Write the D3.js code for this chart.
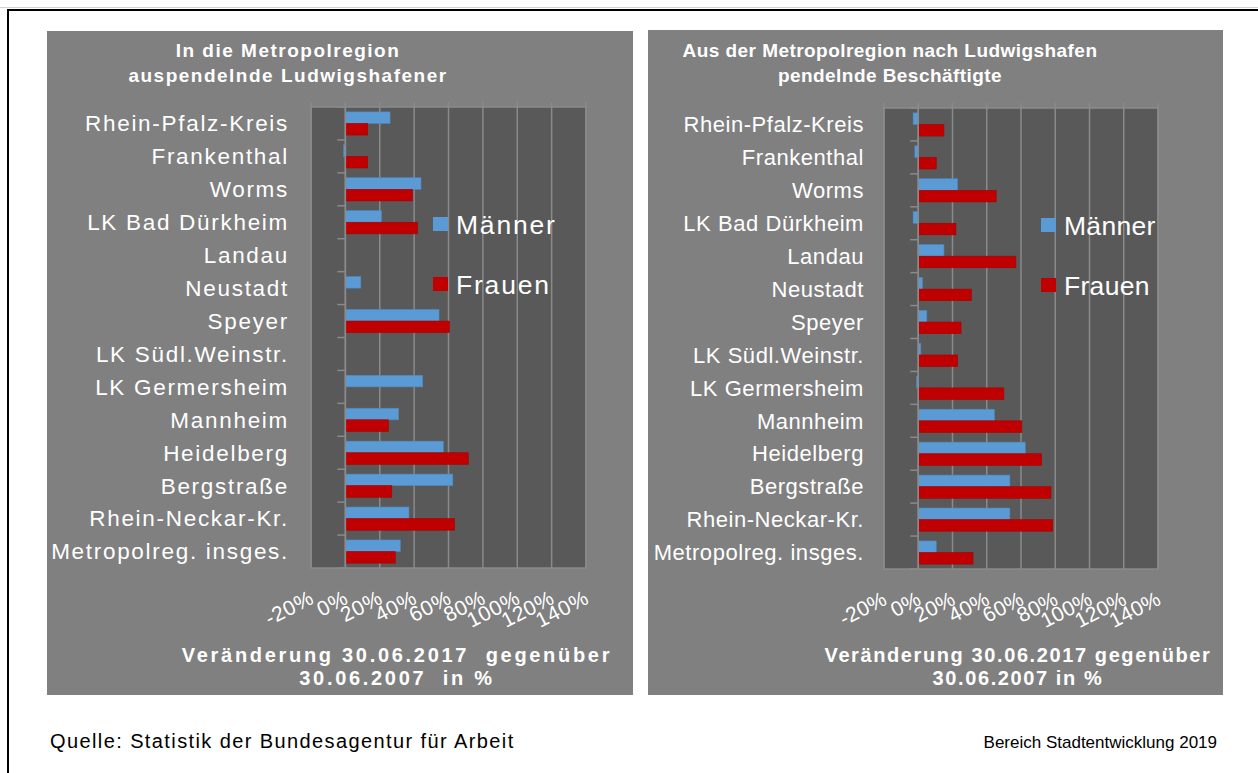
<!DOCTYPE html>
<html>
<head>
<meta charset="utf-8">
<script src="https://cdn.jsdelivr.net/npm/d3@7"></script>
<style>
  body { margin: 0; background: #fff; }
  svg text { font-family: "Liberation Sans", Arial, sans-serif; }
</style>
</head>
<body>
<div id="chart"></div>
<script>
// Pendler Ludwigshafen – Veränderung 2007 bis 2017, zwei Balkendiagramme

const categories = [
  "Rhein-Pfalz-Kreis", "Frankenthal", "Worms", "LK Bad Dürkheim", "Landau",
  "Neustadt", "Speyer", "LK Südl.Weinstr.", "LK Germersheim", "Mannheim",
  "Heidelberg", "Bergstraße", "Rhein-Neckar-Kr.", "Metropolreg. insges."
];

// links: in die Metropolregion auspendelnde Ludwigshafener (%)
const outMen   = [26, -1, 44, 21, null, 9, 54.5, null, 45, 31, 57, 62.5, 37, 32];
const outWomen = [13, 13, 39, 42, null, null, 60.5, null, null, 25, 71.5, 27, 63.5, 29];

// rechts: aus der Metropolregion nach Ludwigshafen pendelnde Beschäftigte (%)
const inMen   = [-3, -2, 23, -3, 15, 2.5, 5, 1.5, -1, 44.5, 62.5, 53.5, 53.5, 10.5];
const inWomen = [15, 10.5, 45.5, 22, 57, 31, 25, 23, 50, 60.5, 72, 77.5, 78.5, 32];

const xTicks = [-20, 0, 20, 40, 60, 80, 100, 120, 140];
const seriesNames = ["Männer", "Frauen"];
const seriesColors = ["#5b9bd5", "#c00000"];

const W = 1258, H = 773;

const svg = d3.select("#chart")
  .append("svg")
  .attr("width", W)
  .attr("height", H);

svg.append("rect")
  .attr("width", W)
  .attr("height", H)
  .attr("fill", "#fff");

// outer frame
svg.append("line")
  .attr("x1", 0).attr("x2", W)
  .attr("y1", 7.5).attr("y2", 7.5)
  .attr("stroke", "#d0d0d0");
svg.append("rect")
  .attr("x", 8)
  .attr("y", 10)
  .attr("width", W)
  .attr("height", H)
  .attr("fill", "none")
  .attr("stroke", "#000")
  .attr("stroke-width", 2);

function drawPanel(opt) {
  const g = svg.append("g");
  const sp = opt.spacing;

  g.append("rect")
    .attr("x", opt.box[0])
    .attr("y", opt.box[1])
    .attr("width", opt.box[2] - opt.box[0])
    .attr("height", opt.box[3] - opt.box[1])
    .attr("fill", "#808080");

  const x = d3.scaleLinear()
    .domain([xTicks[0], xTicks[xTicks.length - 1]])
    .range([opt.plot.left, opt.plot.right]);

  const y = d3.scaleBand()
    .domain(categories)
    .range([opt.plot.top, opt.plot.bottom]);

  const inner = d3.scaleBand()
    .domain(seriesNames)
    .range([0, y.bandwidth()])
    .paddingOuter(0.42)
    .paddingInner(0);

  // plot area
  g.append("rect")
    .attr("x", opt.plot.left)
    .attr("y", opt.plot.top)
    .attr("width", opt.plot.right - opt.plot.left)
    .attr("height", opt.plot.bottom - opt.plot.top)
    .attr("fill", "#595959")
    .attr("stroke", "#8a8a8a")
    .attr("stroke-width", 1.5);

  // vertical gridlines (slightly above plot top)
  g.append("g")
    .selectAll("line")
    .data(xTicks)
    .enter()
    .append("line")
    .attr("x1", d => x(d))
    .attr("x2", d => x(d))
    .attr("y1", opt.plot.top - 5)
    .attr("y2", opt.plot.bottom)
    .attr("stroke", "#8a8a8a")
    .attr("stroke-width", 1.5);

  // bars
  const vals = [opt.men, opt.women];
  seriesNames.forEach((s, si) => {
    g.append("g")
      .selectAll("rect")
      .data(categories.map((c, i) => ({ c, v: vals[si][i] })).filter(d => d.v !== null))
      .enter()
      .append("rect")
      .attr("x", d => x(Math.min(0, d.v)))
      .attr("y", d => y(d.c) + inner(s))
      .attr("width", d => Math.max(1, Math.abs(x(d.v) - x(0))))
      .attr("height", inner.bandwidth())
      .attr("fill", seriesColors[si])
      .attr("stroke", si === 0 ? "#4f87bb" : "#a80000")
      .attr("stroke-width", 0.6);
  });

  // category axis at 0 %
  const yAxis = g.append("g")
    .attr("transform", `translate(${x(0)},0)`);
  yAxis.append("line")
    .attr("x1", 0).attr("x2", 0)
    .attr("y1", opt.plot.top).attr("y2", opt.plot.bottom)
    .attr("stroke", "#8a8a8a")
    .attr("stroke-width", 1.5);
  yAxis.selectAll("line.tick")
    .data(d3.range(categories.length + 1))
    .enter()
    .append("line")
    .attr("class", "tick")
    .attr("x1", -8).attr("x2", 0)
    .attr("y1", i => opt.plot.top + i * y.step())
    .attr("y2", i => opt.plot.top + i * y.step())
    .attr("stroke", "#8a8a8a")
    .attr("stroke-width", 1.5);

  // category labels
  g.append("g")
    .selectAll("text")
    .data(categories)
    .enter()
    .append("text")
    .attr("x", opt.labelX)
    .attr("y", d => y(d) + y.bandwidth() / 2)
    .attr("dy", "0.35em")
    .attr("text-anchor", "end")
    .attr("fill", "#fff")
    .style("font-size", opt.labelSize + "px")
    .style("letter-spacing", sp.label + "px")
    .text(d => d);

  // x tick labels, rotated
  g.append("g")
    .selectAll("text")
    .data(xTicks)
    .enter()
    .append("text")
    .attr("transform", d => `translate(${x(d) + 1},${opt.plot.bottom + 28}) rotate(-27)`)
    .attr("text-anchor", "end")
    .attr("dy", "0.35em")
    .attr("fill", "#fff")
    .style("font-size", "21px")
    .style("letter-spacing", sp.tick + "px")
    .text(d => d + "%");

  // legend
  seriesNames.forEach((s, i) => {
    const ly = opt.legend[1] + i * 60;
    g.append("rect")
      .attr("x", opt.legend[0])
      .attr("y", ly - 7)
      .attr("width", 15)
      .attr("height", 14)
      .attr("fill", seriesColors[i]);
    g.append("text")
      .attr("x", opt.legend[0] + 23)
      .attr("y", ly)
      .attr("dy", "0.36em")
      .attr("fill", "#fff")
      .style("font-size", "26.5px")
      .style("letter-spacing", sp.legend + "px")
      .text(s);
  });

  // title
  opt.title.forEach((t, i) => {
    g.append("text")
      .attr("x", opt.titleX)
      .attr("y", 57 + i * 25)
      .attr("text-anchor", "middle")
      .attr("fill", "#fff")
      .style("font-size", "19px")
      .style("font-weight", "bold")
      .style("letter-spacing", sp.title + "px")
      .text(t);
  });

  // axis title
  opt.axisTitle.forEach((t, i) => {
    g.append("text")
      .attr("x", opt.axisTitleX)
      .attr("y", 662 + i * 23)
      .attr("text-anchor", "middle")
      .attr("fill", "#fff")
      .style("font-size", "20px")
      .style("font-weight", "bold")
      .style("letter-spacing", sp.axis + "px")
      .style("white-space", "pre")
      .text(t);
  });
}

drawPanel({
  box: [47, 31, 633, 695],
  plot: { left: 311, right: 586, top: 107, bottom: 568 },
  men: outMen,
  women: outWomen,
  labelX: 289,
  labelSize: 22.5,
  spacing: { label: 1.7, tick: 0.6, legend: 1.8, title: 1.5, axis: 2.7 },
  legend: [433, 224],
  title: ["In die Metropolregion", "auspendelnde Ludwigshafener"],
  titleX: 288,
  axisTitle: ["Veränderung 30.06.2017  gegenüber", "30.06.2007  in %"],
  axisTitleX: 397
});

drawPanel({
  box: [648, 30, 1223, 695],
  plot: { left: 884, right: 1158, top: 108, bottom: 569 },
  men: inMen,
  women: inWomen,
  labelX: 864,
  labelSize: 22,
  spacing: { label: 0.55, tick: 0.2, legend: 0.3, title: 0.45, axis: 1.6 },
  legend: [1041, 225],
  title: ["Aus der Metropolregion nach Ludwigshafen", "pendelnde Beschäftigte"],
  titleX: 890,
  axisTitle: ["Veränderung 30.06.2017 gegenüber", "30.06.2007 in %"],
  axisTitleX: 1018
});

// footer
svg.append("text")
  .attr("x", 50)
  .attr("y", 748)
  .attr("fill", "#000")
  .style("font-size", "20px")
  .style("letter-spacing", "1.4px")
  .text("Quelle: Statistik der Bundesagentur für Arbeit");

svg.append("text")
  .attr("x", 1217)
  .attr("y", 748)
  .attr("text-anchor", "end")
  .attr("fill", "#000")
  .style("font-size", "17px")
  .text("Bereich Stadtentwicklung 2019");
</script>
</body>
</html>
